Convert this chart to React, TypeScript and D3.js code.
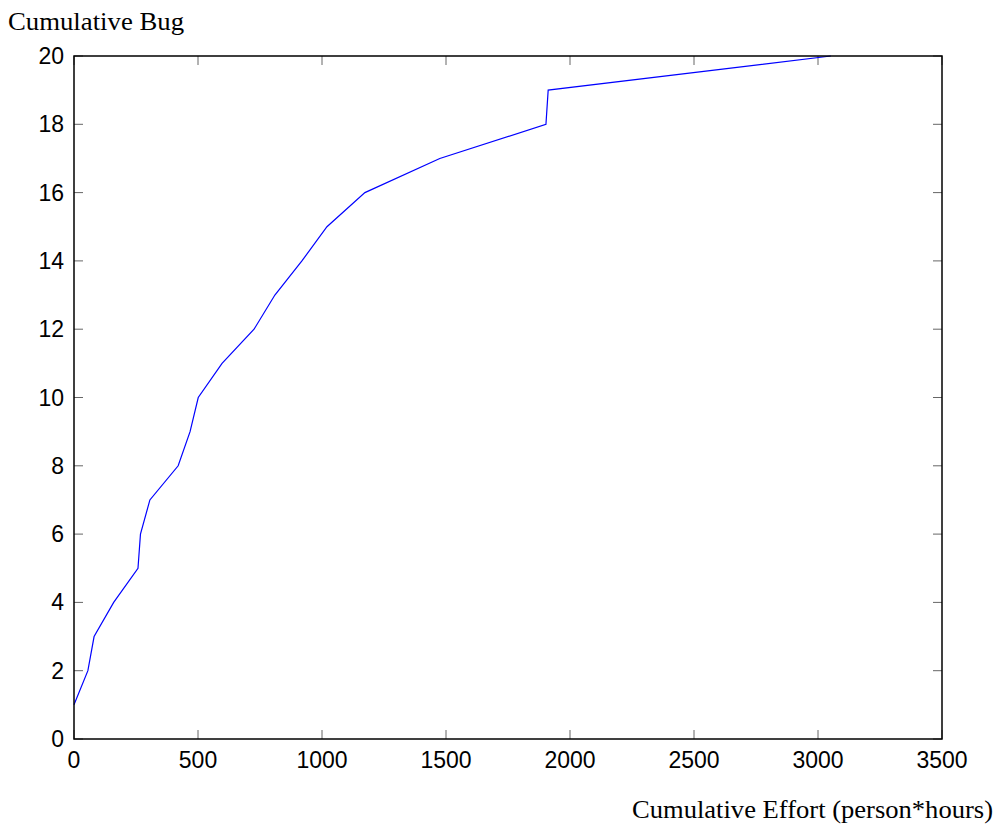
import React, { useEffect, useRef } from "react";
import * as d3 from "d3";

// cumulative effort (person*hours) vs cumulative bug count
const effort = [0, 56, 81, 160, 258, 268, 306, 420, 468, 501, 597, 726, 810, 919, 1020, 1173, 1475, 1903, 1912, 3052];
const bugs = [1, 2, 3, 4, 5, 6, 7, 8, 9, 10, 11, 12, 13, 14, 15, 16, 17, 18, 19, 20];
const xTicks = [0, 500, 1000, 1500, 2000, 2500, 3000, 3500];
const yTicks = [0, 2, 4, 6, 8, 10, 12, 14, 16, 18, 20];

const App = () => {
  const svgRef = useRef<SVGSVGElement>(null);
  const width = 995;
  const height = 827;
  const box = { left: 74, right: 942, top: 56, bottom: 739 };

  useEffect(() => {
    const svg = d3.select(svgRef.current);
    svg.selectAll("*").remove();

    const x = d3.scaleLinear().domain([0, 3500]).range([box.left, box.right]);
    const y = d3.scaleLinear().domain([0, 20]).range([box.bottom, box.top]);
    const tickLen = 9;
    const tickFont = "'Liberation Sans', Arial, sans-serif";
    const titleFont = "'Liberation Serif', 'Times New Roman', serif";

    // ticks (inward, all four sides)
    const g = svg.append("g").attr("stroke", "#666").attr("stroke-width", 1);
    xTicks.forEach((t) => {
      g.append("line").attr("x1", x(t)).attr("x2", x(t)).attr("y1", box.bottom).attr("y2", box.bottom - tickLen);
      g.append("line").attr("x1", x(t)).attr("x2", x(t)).attr("y1", box.top).attr("y2", box.top + tickLen);
    });
    yTicks.forEach((t) => {
      g.append("line").attr("y1", y(t)).attr("y2", y(t)).attr("x1", box.left).attr("x2", box.left + tickLen);
      g.append("line").attr("y1", y(t)).attr("y2", y(t)).attr("x1", box.right).attr("x2", box.right - tickLen);
    });

    // data line
    const line = d3
      .line<number>()
      .x((d) => x(d))
      .y((d, i) => y(bugs[i]));
    svg
      .append("path")
      .datum(effort)
      .attr("fill", "none")
      .attr("stroke", "#0000ff")
      .attr("stroke-width", 1.2)
      .attr("d", line);

    // frame
    svg
      .append("rect")
      .attr("x", box.left)
      .attr("y", box.top)
      .attr("width", box.right - box.left)
      .attr("height", box.bottom - box.top)
      .attr("fill", "none")
      .attr("stroke", "#000")
      .attr("stroke-width", 1.5);

    // tick labels
    svg
      .append("g")
      .attr("font-family", tickFont)
      .attr("font-size", 23)
      .attr("text-anchor", "middle")
      .selectAll("text")
      .data(xTicks)
      .join("text")
      .attr("x", (d) => x(d))
      .attr("y", 768)
      .text((d) => d);

    svg
      .append("g")
      .attr("font-family", tickFont)
      .attr("font-size", 23)
      .attr("text-anchor", "end")
      .selectAll("text")
      .data(yTicks)
      .join("text")
      .attr("x", 64)
      .attr("y", (d) => y(d) + 8)
      .text((d) => d);

    // axis titles
    svg
      .append("text")
      .attr("x", 8)
      .attr("y", 30)
      .attr("font-family", titleFont)
      .attr("font-size", 25)
      .attr("textLength", 176)
      .attr("lengthAdjust", "spacingAndGlyphs")
      .text("Cumulative Bug");

    svg
      .append("text")
      .attr("x", 632)
      .attr("y", 818)
      .attr("font-family", titleFont)
      .attr("font-size", 26)
      .attr("textLength", 361)
      .attr("lengthAdjust", "spacingAndGlyphs")
      .text("Cumulative Effort (person*hours)");
  }, []);

  return (
    <svg
      ref={svgRef}
      width={width}
      height={height}
      style={{ position: "absolute", left: 0, top: 0, background: "#fff" }}
    />
  );
};

export default App;
